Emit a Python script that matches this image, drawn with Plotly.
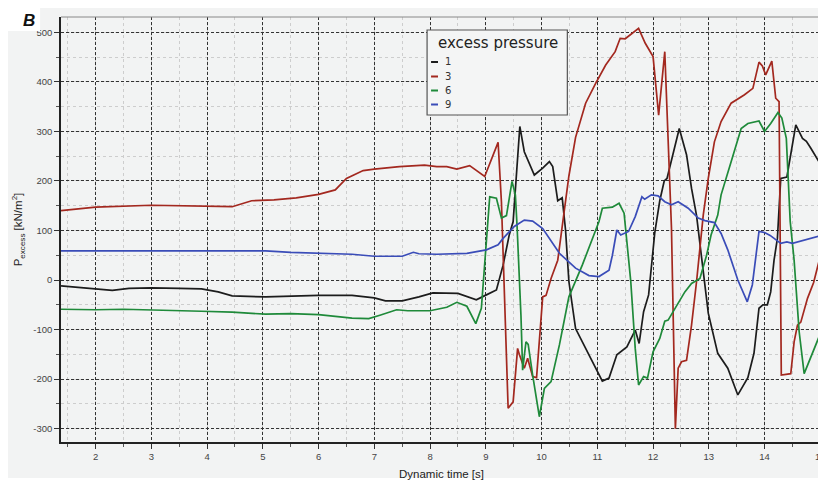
import plotly.graph_objects as go

# ---------------- data ----------------
series_names = ["1", "3", "6", "9"]
series_colors = ["#1c1c1c", "#a3281f", "#1f8a3a", "#3a4cb8"]

t1 = [1.38, 1.7, 2.0, 2.3, 2.6, 3.0, 3.5, 3.9, 4.2, 4.45, 5.05, 5.5, 6.0, 6.6, 7.0, 7.2, 7.5, 7.8,
      8.05, 8.5, 8.83, 9.01, 9.19, 9.31, 9.42, 9.49, 9.61, 9.69, 9.87, 10.02, 10.14, 10.2, 10.29,
      10.37, 10.43, 10.49, 10.61, 10.85, 11.09, 11.21, 11.35, 11.53, 11.68, 11.75, 11.83, 11.92,
      12.03, 12.12, 12.2, 12.25, 12.36, 12.47, 12.6, 12.69, 12.78, 12.87, 12.99, 13.16, 13.34,
      13.52, 13.7, 13.81, 13.9, 13.97, 14.05, 14.11, 14.17, 14.23, 14.29, 14.4, 14.56, 14.68,
      14.75, 14.83, 14.99]
v1 = [-12, -15, -18, -21, -17, -16, -17, -18, -24, -32, -34, -32, -31, -31, -36, -42, -42, -34,
      -26, -27, -40, -30, -20, 30, 91, 118, 310, 259, 212, 226, 239, 229, 160,
      166, 101, -3, -98, -151, -204, -198, -151, -135, -101, -128, -64, -30,
      95, 160, 200, 205, 253, 306, 253, 185, 130, 50, -67, -148, -178,
      -232, -197, -148, -57, -50, -50, -24, 40, 84, 205, 208, 313, 286,
      280, 266, 236]

t3 = [1.38, 2.0, 3.0, 4.0, 4.45, 4.8, 5.2, 5.6, 6.0, 6.3, 6.5, 6.8, 7.0, 7.45, 7.9, 8.12, 8.3,
      8.48, 8.71, 8.98, 9.22, 9.28, 9.40, 9.49, 9.57, 9.6, 9.69, 9.75, 9.84, 9.91, 10.02, 10.08,
      10.17, 10.29, 10.41, 10.49, 10.61, 10.79, 10.97, 11.15, 11.32, 11.41, 11.5, 11.62, 11.74,
      11.86, 12.0, 12.1, 12.21, 12.33, 12.4, 12.45, 12.51, 12.6, 12.69, 12.78, 12.9, 12.99, 13.1,
      13.22, 13.4, 13.64, 13.79, 13.9, 13.96, 14.02, 14.13, 14.2, 14.26, 14.3, 14.47, 14.53,
      14.59, 14.65, 14.77, 14.88, 14.99]
v3 = [140, 147, 151, 148, 148, 160, 162, 166, 173, 182, 205, 221, 224, 229, 232, 229, 229,
      224, 231, 209, 278, 158, -259, -246, -138, -150, -178, -158, -195, -197, -34, -31,
      3, 40, 140, 210, 288, 357, 397, 434, 461, 488, 487, 498, 508,
      478, 451, 333, 461, 105, -300, -178, -165, -162, -91, -3, 131, 205, 279,
      320, 357, 374, 387, 440, 432, 414, 442, 367, 360, -192, -189, -125,
      -91, -85, -37, -5, 44]

t6 = [1.38, 2.0, 2.5, 3.0, 3.9, 4.45, 5.05, 5.5, 6.0, 6.6, 6.9, 7.1, 7.4, 7.6, 8.0, 8.3, 8.48,
      8.66, 8.82, 8.92, 8.98, 9.07, 9.19, 9.28, 9.37, 9.47, 9.53, 9.56, 9.63, 9.66, 9.72, 9.76,
      9.84, 9.96, 10.05, 10.17, 10.32, 10.49, 10.73, 10.91, 11.03, 11.09, 11.27, 11.39, 11.48,
      11.6, 11.68, 11.74, 11.83, 11.9, 12.0, 12.12, 12.21, 12.27, 12.39, 12.57, 12.69, 12.84,
      12.96, 13.04, 13.16, 13.22, 13.4, 13.58, 13.7, 13.9, 14.0, 14.11, 14.24, 14.31, 14.39,
      14.46, 14.53, 14.56, 14.62, 14.71, 14.8, 14.92, 14.99]
v6 = [-59, -60, -59, -60, -63, -65, -69, -68, -70, -77, -78, -71, -60, -62, -62, -55, -45,
      -53, -88, -57, 30, 168, 165, 125, 130, 199, 172, 110, -71, -182, -125, -130,
      -192, -276, -219, -205, -131, -34, 30, 84, 118, 145, 147, 155, 135,
      -3, -138, -212, -195, -198, -145, -118, -83, -81, -57, -24, -7, 3,
      50, 91, 131, 172, 239, 306, 316, 321, 300, 316, 338, 327, 286,
      118, 40, -3, -104, -189, -165, -131, -111]

t9 = [1.38, 2.0, 2.6, 3.5, 4.0, 5.05, 5.5, 6.0, 6.6, 7.0, 7.5, 7.7, 7.8, 8.12, 8.66, 9.01, 9.22,
      9.31, 9.51, 9.69, 9.84, 10.02, 10.32, 10.61, 10.85, 11.03, 11.21, 11.27, 11.35, 11.42,
      11.56, 11.68, 11.8, 11.85, 11.97, 12.09, 12.21, 12.33, 12.45, 12.63, 12.81, 12.93, 13.1,
      13.22, 13.34, 13.52, 13.69, 13.78, 13.9, 14.0, 14.1, 14.29, 14.4, 14.5, 14.7, 14.99]
v9 = [59, 59, 60, 60, 59, 59, 56, 54, 52, 48, 48, 56, 53, 52, 54, 61, 71,
      84, 108, 121, 119, 104, 54, 24, 9, 7, 20, 50, 101, 91,
      98, 128, 168, 163, 172, 170, 158, 152, 158, 145, 125, 120, 116,
      94, 61, 0, -44, -10, 98, 96, 90, 74, 77, 74, 80, 89]

x_ticks = [2, 3, 4, 5, 6, 7, 8, 9, 10, 11, 12, 13, 14, 15]
y_ticks = [-300, -200, -100, 0, 100, 200, 300, 400, 500]

all_t = [t1, t3, t6, t9]
all_v = [v1, v3, v6, v9]

# ---------------- figure ----------------
# the page body adds an 8px margin, so the figure is placed at (8, 8) in the page
OFF = 8
W, H = 818, 475
ML, MR, MT, MB = 53, 0, 9, 41
PW, PH = W - ML - MR, H - MT - MB


def px(x_page):
    return (x_page - OFF - ML) / PW


def py(y_page):
    return (H - MB - (y_page - OFF)) / PH


GRAY = "#f2f3f3"
FONT = "Liberation Sans, Arial, sans-serif"

fig = go.Figure()
for name, col, t, v in zip(series_names, series_colors, all_t, all_v):
    fig.add_trace(go.Scatter(x=t, y=v, mode="lines", name=name,
                             line=dict(color=col, width=1.7), showlegend=False))

fig.update_layout(
    width=W, height=H,
    margin=dict(l=ML, r=MR, t=MT, b=MB, pad=0),
    paper_bgcolor=GRAY,
    plot_bgcolor=GRAY,
    font=dict(family=FONT, color="#444", size=10),
)

fig.update_xaxes(
    range=[1.38, 15.03],
    tickmode="array", tickvals=x_ticks, ticktext=[str(v) for v in x_ticks],
    ticklabeloverflow="allow",
    showline=True, linecolor="#222", linewidth=1.5,
    ticks="outside", ticklen=5, tickcolor="#333", tickwidth=1,
    showgrid=True, gridcolor="#333", griddash="3px,2px", gridwidth=1,
    zeroline=False,
    minor=dict(dtick=0.5, tick0=0, showgrid=True, gridcolor="#cdcdcd",
               griddash="3px,3px", gridwidth=1, ticks="outside", ticklen=3,
               tickcolor="#555"),
    tickfont=dict(size=9.5, color="#444"),
    title=dict(text="Dynamic time [s]", font=dict(size=11.5, color="#222"), standoff=9),
)
fig.update_yaxes(
    range=[-327, 531],
    tickmode="array", tickvals=y_ticks, ticktext=[str(v) for v in y_ticks],
    showline=True, linecolor="#222", linewidth=1.5,
    ticks="outside", ticklen=5, tickcolor="#333", tickwidth=1,
    showgrid=True, gridcolor="#333", griddash="3px,2px", gridwidth=1,
    zeroline=False,
    minor=dict(dtick=50, tick0=0, showgrid=True, gridcolor="#cdcdcd",
               griddash="3px,3px", gridwidth=1, ticks="outside", ticklen=3,
               tickcolor="#555"),
    tickfont=dict(size=9.5, color="#444"),
    title=dict(text="P<sub>excess</sub> [kN/m<sup>2</sup>]",
               font=dict(size=11.5, color="#222"), standoff=8),
)

shapes = []
# white strip below the grey panel
shapes.append(dict(type="rect", xref="paper", yref="paper", layer="above",
                   x0=px(0), x1=px(834), y0=py(491), y1=py(478),
                   fillcolor="white", line=dict(width=0)))
# white label box for "B"
shapes.append(dict(type="rect", xref="paper", yref="paper", layer="above",
                   x0=px(0), x1=px(40), y0=py(31), y1=py(0),
                   fillcolor="white", line=dict(width=0)))
# top frame line
shapes.append(dict(type="line", xref="paper", yref="paper", layer="above",
                   x0=0, x1=1, y0=1, y1=1, line=dict(color="#888", width=1)))
# legend box
shapes.append(dict(type="rect", xref="paper", yref="paper", layer="above",
                   x0=px(429), x1=px(570), y0=py(115), y1=py(30),
                   fillcolor="#f4f5f5", line=dict(color="#555", width=1.2)))

annotations = []
annotations.append(dict(xref="paper", yref="paper", x=px(29), y=py(21),
                        text="<b><i>B</i></b>", showarrow=False,
                        font=dict(family="Liberation Sans, Arial, sans-serif", size=17, color="#111"),
                        xanchor="center", yanchor="middle"))
annotations.append(dict(xref="paper", yref="paper", x=px(500), y=py(43),
                        text="excess pressure", showarrow=False,
                        font=dict(family="DejaVu Sans, sans-serif", size=15, color="#222"),
                        xanchor="center", yanchor="middle"))
entry_y = [62, 76.5, 90.5, 104.5]
for name, col, ey in zip(series_names, series_colors, entry_y):
    shapes.append(dict(type="line", xref="paper", yref="paper", layer="above",
                       x0=px(433), x1=px(440), y0=py(ey), y1=py(ey),
                       line=dict(color=col, width=2)))
    annotations.append(dict(xref="paper", yref="paper", x=px(445), y=py(ey),
                            text=name, showarrow=False,
                            font=dict(family="DejaVu Sans, sans-serif", size=10, color="#333"),
                            xanchor="left", yanchor="middle"))

fig.update_layout(shapes=shapes, annotations=annotations)

fig.write_html("out.html")
